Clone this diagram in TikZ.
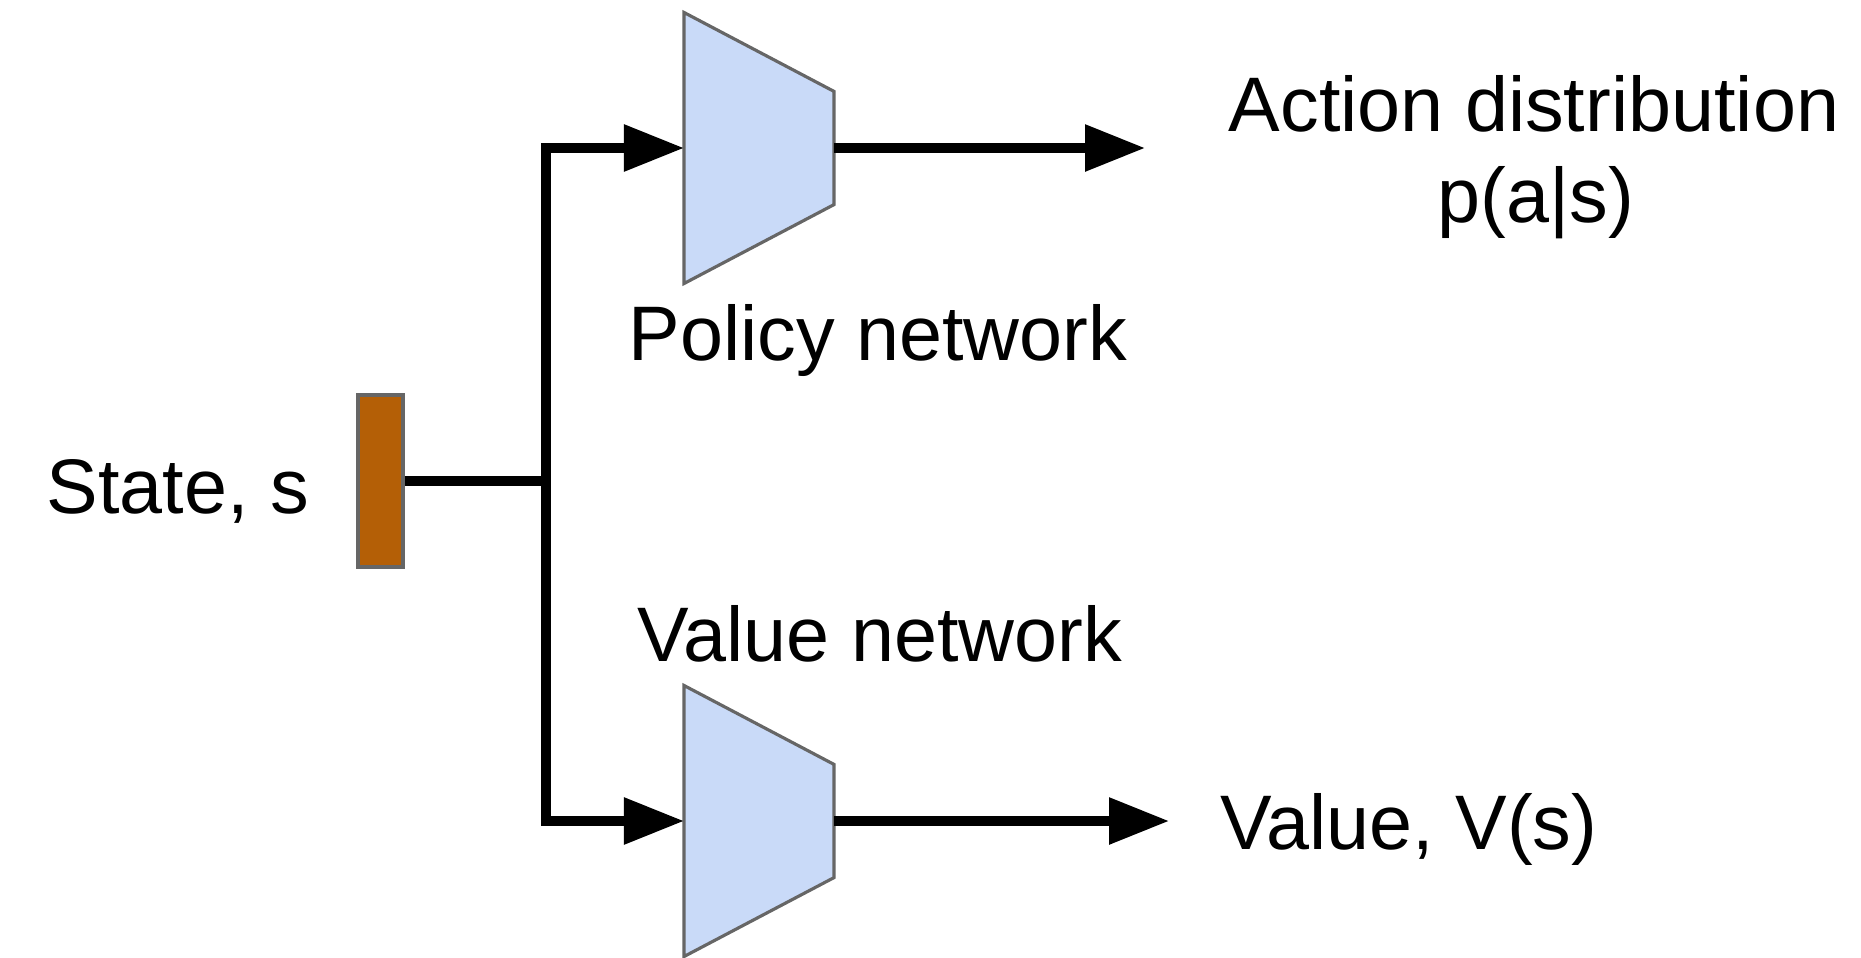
\documentclass[tikz,border=0pt]{standalone}
\usepackage{xcolor}
\usepackage{fontspec}
\setmainfont{Liberation Sans}
\usepackage{tikz}
\usetikzlibrary{arrows.meta,positioning}

\definecolor{netblue}{HTML}{C9DAF8}
\definecolor{stateorange}{HTML}{B45F06}
\definecolor{edgegray}{HTML}{666666}

\begin{document}
\begin{tikzpicture}[>={Triangle[length=6mm,width=4.5mm]},line width=2.6pt,
  net node/.style={rectangle,inner sep=0pt,
  minimum width=14.1mm,minimum height=26.2mm},
  net shape/.style={fill=netblue,draw=edgegray,line width=0.9pt},
  state node/.style={rectangle,fill=stateorange,draw=edgegray,line width=0.9pt,
  inner sep=0pt,minimum width=4.5mm,minimum height=17.2mm},
  text node/.style={font=\fontsize{22}{26}\selectfont,inner sep=0pt,anchor=base}]

  \useasboundingbox (0,0) rectangle (18.61,9.57);

  \node[state node] (s) at (3.805,4.76) {};
  \coordinate (split) at (5.46,4.76);
  \node[net node] (pol) at (7.59,8.09) {};
  \node[net node] (val) at (7.59,1.36) {};
  \coordinate (pout) at (11.45,8.09);
  \coordinate (vout) at (11.69,1.36);

  % both networks narrow towards the output side
  \foreach \n in {pol,val}
    \filldraw[net shape] (\n.north west) -- ([yshift=-7.9mm]\n.north east)
      -- ([yshift=7.9mm]\n.south east) -- (\n.south west) -- cycle;

  \draw (s.east) -- (split);
  \draw[->] (split) |- (pol.west);
  \draw[->] (split) |- (val.west);
  \draw[->] (pol.east) -- (pout);
  \draw[->] (val.east) -- (vout);

  \node[text node] (slabel) at (1.78,4.44) {State, s};
  \node[text node] (plabel) at (8.78,5.97) {Policy network};
  \node[text node] (vlabel) at (8.80,2.96) {Value network};
  \node[text node] (alabel) at (15.34,8.26) {Action distribution};
  \node[text node] (pas) at (15.36,7.35) {p(a|s)};
  \node[text node] (vslabel) at (14.09,1.08) {Value, V(s)};

\end{tikzpicture}
\end{document}
